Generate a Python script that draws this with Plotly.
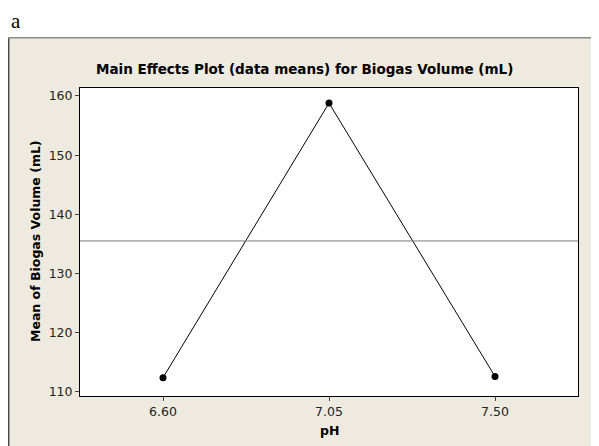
import plotly.graph_objects as go

ph_levels = ["6.60", "7.05", "7.50"]
mean_volume = [112.4, 158.8, 112.6]
overall_mean = 135.5
y_ticks = [110, 120, 130, 140, 150, 160]

# page has an 8px body margin; coordinates below are page pixels
OFF = 8
W, H = 599 - OFF, 446 - OFF
L, R, T, B = 80 - OFF, 599 - 578, 88 - OFF, 446 - 396
pw, ph = W - L - R, H - T - B

def px_x(x):
    return (x - OFF - L) / pw

def px_y(y):
    return (H - B - (y - OFF)) / ph

fig = go.Figure()
fig.add_trace(go.Scatter(
    x=ph_levels, y=mean_volume, mode="lines+markers",
    line=dict(color="black", width=1),
    marker=dict(color="black", size=7),
    showlegend=False, hoverinfo="skip",
))
fig.add_hline(y=overall_mean, line=dict(color="#7a7a7a", width=1))

beige = "#EEEAE0"
fig.add_shape(type="rect", xref="paper", yref="paper",
              x0=px_x(8), x1=px_x(620), y0=px_y(470), y1=px_y(37),
              fillcolor=beige, line=dict(width=0), layer="below")
fig.add_shape(type="line", xref="paper", yref="paper",
              x0=px_x(8.7), x1=px_x(8.7), y0=px_y(470), y1=px_y(37),
              line=dict(color="#4a4a4a", width=1.5), layer="below")
fig.add_shape(type="line", xref="paper", yref="paper",
              x0=px_x(8), x1=px_x(620), y0=px_y(37.7), y1=px_y(37.7),
              line=dict(color="#8a8a8a", width=1.5), layer="below")
fig.add_shape(type="rect", xref="paper", yref="paper",
              x0=0, x1=1, y0=0, y1=1,
              fillcolor="white", line=dict(width=0), layer="below")

font_sans = "DejaVu Sans, Verdana, sans-serif"
common = dict(xref="paper", yref="paper", showarrow=False,
              xanchor="center", yanchor="middle")
fig.add_annotation(text="a", x=px_x(15.5), y=px_y(20.5), **common,
                   font=dict(family="Liberation Serif, Times New Roman, serif", size=21, color="black"))
fig.add_annotation(text="<b>Main Effects Plot (data means) for Biogas Volume (mL)</b>",
                   x=px_x(304), y=px_y(69), **common,
                   font=dict(family=font_sans, size=13.5, color="black"))
fig.add_annotation(text="<b>Mean of Biogas Volume (mL)</b>",
                   x=px_x(35), y=px_y(241), textangle=-90, **common,
                   font=dict(family=font_sans, size=12.5, color="black"))
fig.add_annotation(text="<b>pH</b>",
                   x=px_x(329), y=px_y(430), **common,
                   font=dict(family=font_sans, size=12.5, color="black"))

fig.update_xaxes(type="category", range=[-0.5, 2.5], showgrid=False, zeroline=False,
                 showline=True, linecolor="black", linewidth=1, mirror=True,
                 ticks="outside", ticklen=4, tickcolor="#444",
                 tickfont=dict(family=font_sans, size=12.5, color="#222"))
fig.update_yaxes(range=[109.3, 161.35], tickvals=y_ticks, showgrid=False, zeroline=False,
                 showline=True, linecolor="black", linewidth=1, mirror=True,
                 ticks="outside", ticklen=4, tickcolor="#444",
                 tickfont=dict(family=font_sans, size=12.5, color="#222"))

fig.update_layout(width=W, height=H, margin=dict(l=L, r=R, t=T, b=B, autoexpand=False),
                  paper_bgcolor="white", plot_bgcolor="white")
fig.write_html("out.html")
